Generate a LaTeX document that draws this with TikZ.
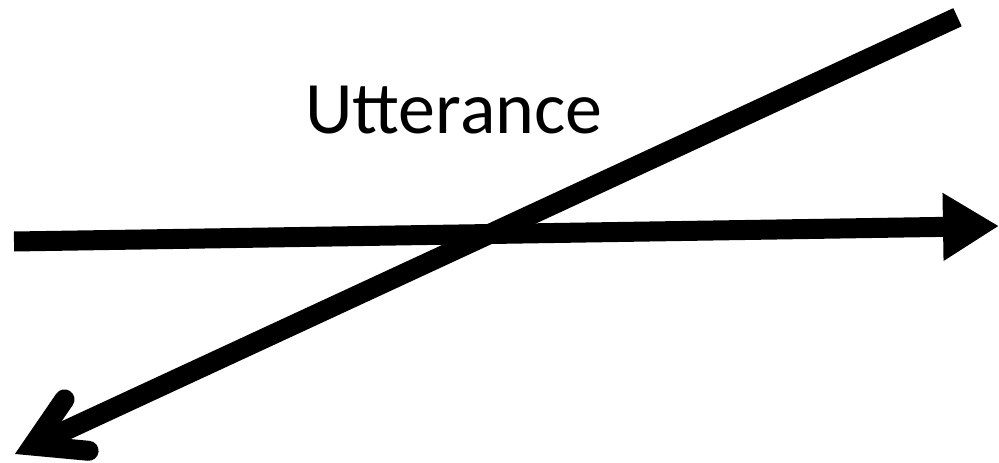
\documentclass[tikz,border=0pt]{standalone}
\usepackage{fontspec}
\setmainfont{Carlito}
\usetikzlibrary{arrows.meta}

\begin{document}
\begin{tikzpicture}[x=1pt, y=-1pt,
    axis/.style={line width=20pt},
    barb/.style={line width=20pt, line cap=round, line join=miter}]

\useasboundingbox (0,0) rectangle (999,463);

% Label
\node[font=\fontsize{74}{80}\selectfont, anchor=base west, inner sep=0]
    (utt) at (305, 133) {Utterance};

% Horizontal axis
\coordinate (hstart) at (14, 241.5);
\coordinate (hend)   at (999, 226);
\draw[axis, -{Triangle[length=56pt, width=64pt]}] (hstart) -- (hend);

% Diagonal axis
\coordinate (dstart) at (957.5, 17.2);
\coordinate (dtip)   at (32.8, 445.6);
\coordinate (armup)  at (64.5, 399.4);
\coordinate (armlow) at (88.6, 450.8);
\draw[axis] (dstart) -- (dtip);
\draw[barb] (armup) -- (dtip) -- (armlow);

\end{tikzpicture}
\end{document}
